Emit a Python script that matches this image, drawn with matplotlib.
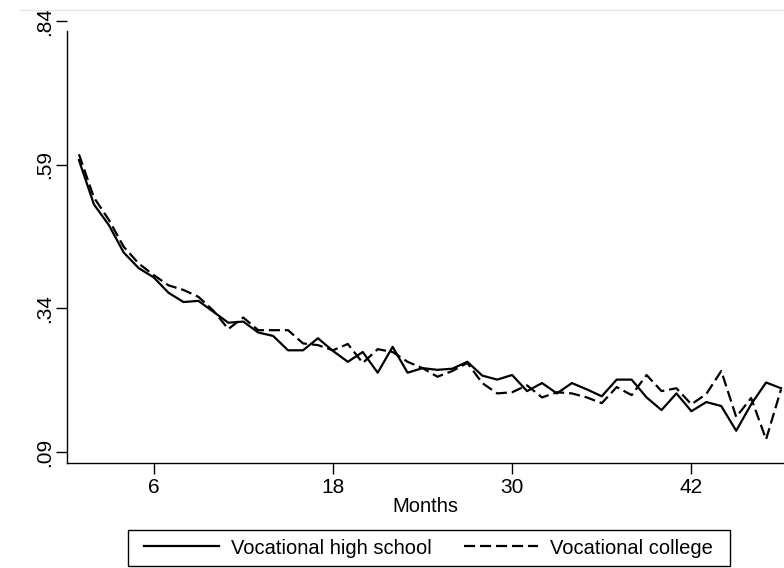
import numpy as np
import matplotlib.pyplot as plt
from matplotlib.lines import Line2D
from matplotlib.patches import Rectangle

plt.rcParams['font.family'] = ['Liberation Sans', 'DejaVu Sans']

months = np.arange(1, 49)

high_school = [0.598, 0.521, 0.485, 0.437, 0.410, 0.394, 0.367, 0.351, 0.353, 0.334,
               0.315, 0.317, 0.298, 0.292, 0.267, 0.267, 0.288, 0.266, 0.247, 0.264,
               0.228, 0.273, 0.228, 0.236, 0.233, 0.235, 0.247, 0.223, 0.216, 0.224,
               0.196, 0.210, 0.192, 0.210, 0.199, 0.187, 0.216, 0.216, 0.185, 0.163,
               0.192, 0.161, 0.177, 0.170, 0.127, 0.173, 0.211, 0.201]

college = [0.608, 0.533, 0.494, 0.447, 0.418, 0.398, 0.380, 0.372, 0.360, 0.336,
           0.304, 0.324, 0.302, 0.302, 0.302, 0.279, 0.276, 0.267, 0.278, 0.245,
           0.269, 0.264, 0.247, 0.236, 0.221, 0.231, 0.245, 0.210, 0.192, 0.194,
           0.206, 0.185, 0.194, 0.192, 0.185, 0.175, 0.203, 0.189, 0.224, 0.196,
           0.201, 0.173, 0.191, 0.231, 0.151, 0.184, 0.112, 0.199]

yticks = [0.09, 0.34, 0.59, 0.84]
ytick_labels = ['.09', '.34', '.59', '.84']
xticks = [6, 18, 30, 42]

dash = (5, 2.2)

fig = plt.figure(figsize=(7.84, 5.68), dpi=100)
ax = fig.add_axes([67 / 784, 1 - 463 / 568, 1 - 67 / 784, 442 / 568])

ax.plot(months, high_school, color='black', lw=1.6)
ax.plot(months, college, color='black', lw=1.6, dashes=dash)

ax.set_xlim(0.2, 48.2)
ax.set_ylim(0.0709, 0.84)
ax.spines['top'].set_visible(False)
ax.spines['right'].set_visible(False)
ax.spines['left'].set_bounds(0.0709, 0.8226)
for s in ['left', 'bottom']:
    ax.spines[s].set_linewidth(1.0)

ax.set_yticks(yticks)
ax.set_yticklabels(ytick_labels, rotation=90, va='center', fontsize=15)
ax.set_xticks(xticks)
ax.set_xticklabels([str(t) for t in xticks], fontsize=15)
ax.tick_params(length=8, width=1.0)
ax.tick_params(axis='x', pad=3)
ax.tick_params(axis='y', pad=1)
ax.set_xlabel('Months', fontsize=14.5, labelpad=0)

# faint top border line
fig.add_artist(Line2D([0.025, 1.0], [0.983, 0.983], color='#e6e6e6', lw=1))

# legend box
fig.add_artist(Rectangle((128 / 784, 2 / 568), 602 / 784, 36 / 568,
                         transform=fig.transFigure, fill=False,
                         edgecolor='black', lw=1.0))
handles = [Line2D([], [], color='black', lw=1.6),
           Line2D([], [], color='black', lw=1.6, dashes=dash)]
leg = fig.legend(handles, ['Vocational high school', 'Vocational college'],
                 loc='center', bbox_to_anchor=(0.547, 20 / 568), ncol=2,
                 fontsize=14.5, frameon=False, handlelength=3.7,
                 columnspacing=1.6, borderpad=0.0, handletextpad=0.6)

fig.savefig('out.png', dpi=100)
